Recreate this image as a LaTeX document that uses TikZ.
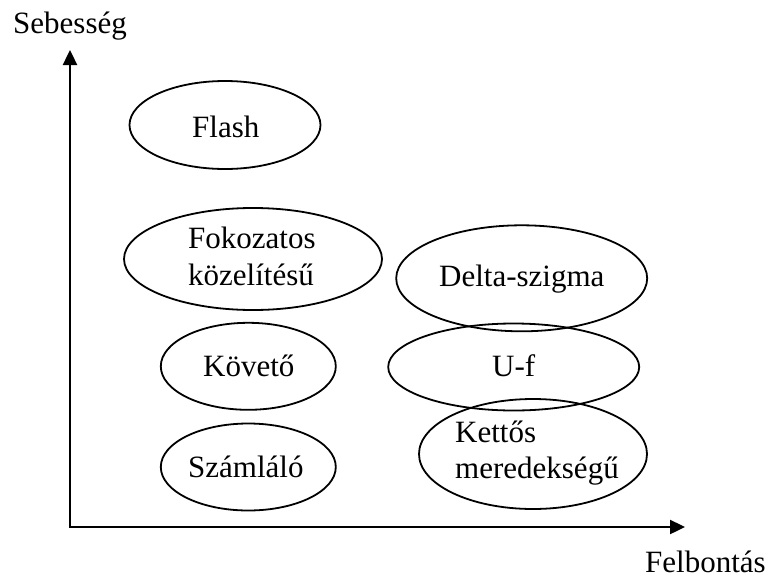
\documentclass[tikz,border=0pt]{standalone}
\usepackage{fontspec}
\setmainfont{Liberation Serif}
\usetikzlibrary{shapes.geometric,arrows.meta}
\begin{document}
\begin{tikzpicture}[x=1pt,y=-1pt,
  oval/.style={draw, ellipse, line width=1.8pt, inner sep=0pt},
  lbl/.style={anchor=base west, inner sep=0pt, font=\fontsize{31}{37}\selectfont},
  axisline/.style={line width=2.4pt, line join=miter, {Triangle[length=15pt,width=14pt]}-{Triangle[length=15pt,width=14pt]}}]
\useasboundingbox (0,0) rectangle (769,579);
% axes
\coordinate (o) at (70,527);
\coordinate (ytip) at (70,50);
\coordinate (xtip) at (685,527);
\draw[axisline] (ytip) -- (o) -- (xtip);
\node[lbl] (ylab) at (13,33) {Sebesség};
\node[lbl] (xlab) at (645,572) {Felbontás};
% ellipses
\node[oval, minimum width=191pt, minimum height=88pt] (flash) at (225,125) {};
\node[oval, minimum width=258pt, minimum height=102pt] (fok) at (253,259) {};
\node[oval, minimum width=251pt, minimum height=106pt] (delta) at (521.7,278.3) {};
\node[oval, minimum width=251pt, minimum height=87pt] (uf) at (513.7,367) {};
\node[oval, minimum width=228pt, minimum height=110pt] (kettos) at (533,454) {};
\node[oval, minimum width=175pt, minimum height=87pt] (kov) at (248.3,366.3) {};
\node[oval, minimum width=175pt, minimum height=87pt] (szam) at (248.3,467) {};
% labels
\node[lbl] (flashT) at (192,137) {Flash};
\node[lbl] (fokA) at (188,248) {Fokozatos};
\node[lbl] (fokB) at (188,285) {közelítésű};
\node[lbl] (deltaT) at (439,286) {Delta-szigma};
\node[lbl] (ufT) at (492,376.7) {U-f};
\node[lbl] (kettosA) at (455,442) {Kettős};
\node[lbl] (kettosB) at (455,478.3) {meredekségű};
\node[lbl] (kovT) at (203,376) {Követő};
\node[lbl] (szamT) at (188,477) {Számláló};
\end{tikzpicture}
\end{document}
